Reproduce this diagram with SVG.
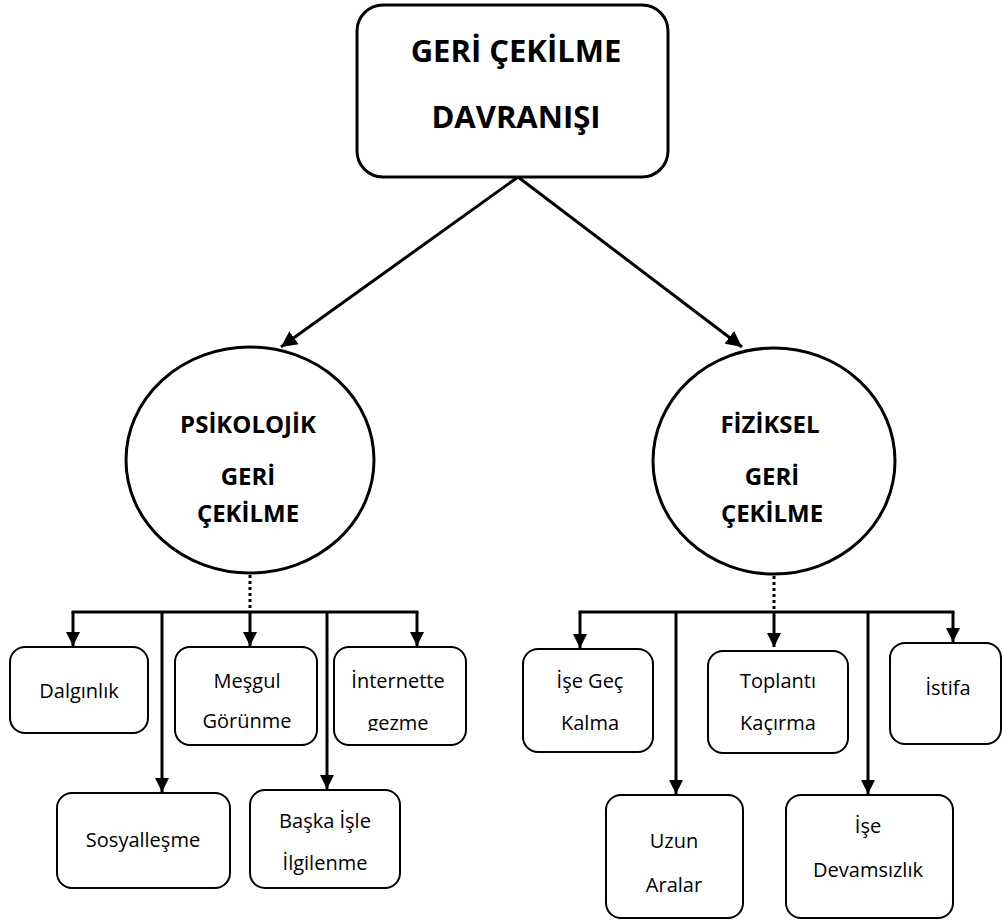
<svg xmlns="http://www.w3.org/2000/svg" width="1003" height="921" viewBox="0 0 1003 921">
<style>
.big{font-family:"Open Sans","Noto Sans",sans-serif;font-weight:bold;font-size:31px;text-anchor:middle;fill:#000}
.mid{font-family:"Open Sans","Noto Sans",sans-serif;font-weight:bold;font-size:24px;text-anchor:middle;fill:#000}
.sm{font-family:"Open Sans","Noto Sans",sans-serif;font-size:20px;text-anchor:middle;fill:#000}
.node{fill:#fff;stroke:#000;stroke-width:2}
.thick{fill:#fff;stroke:#000;stroke-width:3}
.con{stroke:#000;stroke-width:3;fill:none}
.dot{stroke:#000;stroke-width:3;stroke-dasharray:3 3;fill:none}
</style>
<defs>
<marker id="ah" markerUnits="userSpaceOnUse" markerWidth="15" markerHeight="15" refX="14" refY="7" orient="auto" viewBox="0 0 15 14">
<path d="M0,0 L14,7 L0,14 z" fill="#000"/>
</marker>
<marker id="ahb" markerUnits="userSpaceOnUse" markerWidth="17" markerHeight="17" refX="16" refY="8" orient="auto" viewBox="0 0 17 16">
<path d="M0,0 L16,8 L0,16 z" fill="#000"/>
</marker>
<clipPath id="clipI"><rect x="333" y="647" width="133" height="84"/></clipPath>
</defs>
<rect width="1003" height="921" fill="#fff"/>
<g id="connectors">
<line class="con" x1="518" y1="177" x2="281" y2="347" marker-end="url(#ahb)"/>
<line class="con" x1="518" y1="177" x2="742" y2="347" marker-end="url(#ahb)"/>
<line class="dot" x1="250" y1="575" x2="250" y2="611"/>
<line class="dot" x1="774" y1="576" x2="774" y2="611"/>
<line class="con" x1="73" y1="612" x2="417" y2="612" stroke-linecap="square"/>
<line class="con" x1="73" y1="612" x2="73" y2="646" marker-end="url(#ah)"/>
<line class="con" x1="162" y1="612" x2="162" y2="792" marker-end="url(#ah)"/>
<line class="con" x1="250" y1="612" x2="250" y2="646" marker-end="url(#ah)"/>
<line class="con" x1="327" y1="612" x2="327" y2="789" marker-end="url(#ah)"/>
<line class="con" x1="417" y1="612" x2="417" y2="646" marker-end="url(#ah)"/>
<line class="con" x1="580" y1="612" x2="953" y2="612" stroke-linecap="square"/>
<line class="con" x1="580" y1="612" x2="580" y2="648" marker-end="url(#ah)"/>
<line class="con" x1="676" y1="612" x2="676" y2="794" marker-end="url(#ah)"/>
<line class="con" x1="774" y1="612" x2="774" y2="647" marker-end="url(#ah)"/>
<line class="con" x1="868" y1="612" x2="868" y2="794" marker-end="url(#ah)"/>
<line class="con" x1="953" y1="612" x2="953" y2="642" marker-end="url(#ah)"/>
</g>
<g id="root">
<rect class="thick" x="357" y="5" width="311" height="172" rx="26"/>
<text class="big" x="516" y="62">GERİ ÇEKİLME</text>
<text class="big" x="516" y="128">DAVRANIŞI</text>
</g>
<g id="psikolojik">
<ellipse class="thick" cx="250" cy="460" rx="124" ry="113"/>
<text class="mid" x="248" y="433">PSİKOLOJİK</text>
<text class="mid" x="248" y="485">GERİ</text>
<text class="mid" x="248" y="522">ÇEKİLME</text>
</g>
<g id="fiziksel">
<ellipse class="thick" cx="774" cy="461" rx="121" ry="113"/>
<text class="mid" x="770" y="433">FİZİKSEL</text>
<text class="mid" x="772" y="485">GERİ</text>
<text class="mid" x="772" y="522">ÇEKİLME</text>
</g>
<g id="dalginlik">
<rect class="node" x="10" y="647" width="138" height="86" rx="15"/>
<text class="sm" x="79" y="698">Dalgınlık</text>
</g>
<g id="mesgul">
<rect class="node" x="175" y="647" width="142" height="98" rx="15"/>
<text class="sm" x="247" y="688">Meşgul</text>
<text class="sm" x="247" y="728">Görünme</text>
</g>
<g id="internette">
<rect class="node" x="334" y="647" width="132" height="98" rx="15"/>
<text class="sm" x="398" y="688">İnternette</text>
<text class="sm" x="398" y="730" clip-path="url(#clipI)">gezme</text>
</g>
<g id="sosyallesme">
<rect class="node" x="57" y="793" width="173" height="95" rx="15"/>
<text class="sm" x="143" y="847">Sosyalleşme</text>
</g>
<g id="baska">
<rect class="node" x="250" y="790" width="150" height="98" rx="15"/>
<text class="sm" x="325" y="828">Başka İşle</text>
<text class="sm" x="325" y="870">İlgilenme</text>
</g>
<g id="gec">
<rect class="node" x="523" y="649" width="130" height="103" rx="15"/>
<text class="sm" x="590" y="688">İşe Geç</text>
<text class="sm" x="590" y="730">Kalma</text>
</g>
<g id="toplanti">
<rect class="node" x="708" y="651" width="140" height="102" rx="15"/>
<text class="sm" x="778" y="688">Toplantı</text>
<text class="sm" x="778" y="730">Kaçırma</text>
</g>
<g id="istifa">
<rect class="node" x="890" y="643" width="111" height="101" rx="15"/>
<text class="sm" x="948" y="695">İstifa</text>
</g>
<g id="uzun">
<rect class="node" x="606" y="795" width="137" height="123" rx="15"/>
<text class="sm" x="674" y="848">Uzun</text>
<text class="sm" x="674" y="892">Aralar</text>
</g>
<g id="devamsizlik">
<rect class="node" x="786" y="795" width="167" height="123" rx="15"/>
<text class="sm" x="868" y="833">İşe</text>
<text class="sm" x="868" y="877">Devamsızlık</text>
</g>
</svg>
